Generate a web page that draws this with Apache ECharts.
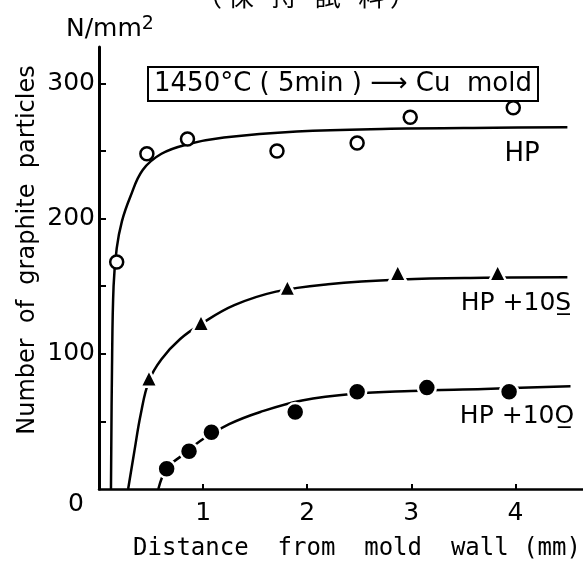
<!DOCTYPE html>
<html>
<head>
<meta charset="utf-8">
<script src="https://cdn.jsdelivr.net/npm/echarts@6/dist/echarts.min.js"></script>
<style>
  html, body { margin: 0; padding: 0; background: #fff; }
  #chart { width: 583px; height: 567px; }
</style>
</head>
<body>
<div id="chart"></div>
<script>
// measured points (distance mm, count N/mm2)
var hpX = [0.17, 0.46, 0.85, 1.71, 2.48, 2.99, 3.98];
var hpY = [168, 248, 259, 250, 256, 275, 282];
var hp10sX = [0.48, 0.98, 1.81, 2.87, 3.83];
var hp10sY = [82, 123, 149, 160, 160];
var hp10oX = [0.65, 0.865, 1.08, 1.885, 2.48, 3.15, 3.94];
var hp10oY = [15, 28, 42, 57, 72, 75, 72];

// hand drawn fitted curves
var hpCurveX = [0.115, 0.125, 0.14, 0.17, 0.22, 0.3, 0.42, 0.6, 0.85, 1.2, 1.9, 2.8, 3.8, 4.5];
var hpCurveY = [0, 90, 150, 178, 198, 216, 236, 248, 255, 260, 264.5, 266.5, 267.3, 267.6];
var hp10sCurveX = [0.28, 0.34, 0.4, 0.48, 0.6, 0.78, 1.0, 1.3, 1.7, 2.2, 2.9, 3.7, 4.5];
var hp10sCurveY = [0, 28, 55, 80, 96, 111, 123, 136, 146, 151.5, 155, 156.3, 156.7];
var hp10oCurveX = [0.57, 0.65, 0.8, 1.0, 1.25, 1.55, 1.95, 2.45, 3.0, 3.7, 4.53];
var hp10oCurveY = [0, 15, 25, 37, 48, 57, 65.5, 70.5, 72.5, 74, 76];

var xTicks = [1, 2, 3, 4];
var yTicks = [100, 200, 300];
var yMinorTicks = [50, 100, 150, 200, 250, 300];

function zip(xs, ys) {
  var out = [];
  for (var i = 0; i < xs.length; i++) {
    out.push([xs[i], ys[i]]);
  }
  return out;
}

var font = 'DejaVu Sans';

function curve(name, xs, ys) {
  return {
    name: name,
    type: 'line',
    data: zip(xs, ys),
    smooth: 0.4,
    symbol: 'none',
    lineStyle: { color: '#000', width: 2.5 },
    silent: true
  };
}

var chart = echarts.init(document.getElementById('chart'));
var option = {
  backgroundColor: '#fff',
  animation: false,
  title: {
    text: '1450°C ( 5min ) ⟶ Cu  mold',
    left: 148,
    top: 67,
    padding: [4, 6, 4, 6],
    borderColor: '#000',
    borderWidth: 2,
    textStyle: { fontFamily: font, fontSize: 26, fontWeight: 'normal', color: '#000' }
  },
  grid: { left: 99, right: 0, top: 47, bottom: 78 },
  xAxis: {
    type: 'value',
    min: 0,
    max: 4.65,
    interval: 1,
    splitLine: { show: false },
    axisLine: { lineStyle: { color: '#000', width: 2.5 } },
    axisTick: { inside: true, length: 5, customValues: xTicks, lineStyle: { color: '#000', width: 2 } },
    axisLabel: { customValues: xTicks, color: '#000', fontFamily: font, fontSize: 25, margin: 12 }
  },
  yAxis: {
    type: 'value',
    min: 0,
    max: 327,
    interval: 100,
    splitLine: { show: false },
    axisLine: { lineStyle: { color: '#000', width: 3 } },
    axisTick: { inside: true, length: 7, customValues: yMinorTicks, lineStyle: { color: '#000', width: 2 } },
    axisLabel: { customValues: yTicks, color: '#000', fontFamily: font, fontSize: 25, margin: 4 }
  },
  series: [
    curve('HP curve', hpCurveX, hpCurveY),
    curve('HP+10S curve', hp10sCurveX, hp10sCurveY),
    curve('HP+10O curve', hp10oCurveX, hp10oCurveY),
    {
      name: 'HP',
      type: 'scatter',
      data: zip(hpX, hpY),
      symbol: 'circle',
      symbolSize: 13,
      itemStyle: { color: '#fff', borderColor: '#000', borderWidth: 2.5, opacity: 1 },
      z: 5
    },
    {
      name: 'HP+10S',
      type: 'scatter',
      data: zip(hp10sX, hp10sY),
      symbol: 'triangle',
      symbolSize: 17,
      itemStyle: { color: '#000', borderColor: '#fff', borderWidth: 2.5, opacity: 1 },
      z: 5
    },
    {
      name: 'HP+10O',
      type: 'scatter',
      data: zip(hp10oX, hp10oY),
      symbol: 'circle',
      symbolSize: 18,
      itemStyle: { color: '#000', borderColor: '#fff', borderWidth: 2.5, opacity: 1 },
      z: 5
    }
  ],
  graphic: [
    {
      type: 'text', left: 66, top: 15,
      style: {
        text: 'N/mm{sup|2}',
        font: '25px ' + font,
        fill: '#000',
        rich: { sup: { fontSize: 19, fontFamily: font, verticalAlign: 'top', padding: [0, 0, 10, 0] } }
      }
    },
    {
      type: 'text', left: 196, top: -17,
      style: { text: '（ 保   持   試   料 ）', font: '26px "Noto Sans CJK JP"', fill: '#000' }
    },
    {
      type: 'text', left: 68, top: 492,
      style: { text: '0', font: '25px ' + font, fill: '#000' }
    },
    {
      type: 'text', x: 28, y: 250, rotation: Math.PI / 2,
      style: { text: 'Number  of  graphite  particles', font: '24px ' + font, fill: '#000', align: 'center', verticalAlign: 'middle' }
    },
    {
      type: 'text', x: 357, y: 549,
      style: { text: 'Distance  from  mold  wall (mm)', font: '24px "DejaVu Sans Mono"', fill: '#000', align: 'center', verticalAlign: 'middle' }
    },
    {
      type: 'text', x: 522, y: 154,
      style: { text: 'HP', font: '26px ' + font, fill: '#000', align: 'center', verticalAlign: 'middle' }
    },
    {
      type: 'text', x: 516, y: 303,
      style: { text: 'HP +10S\u0332', font: '25px ' + font, fill: '#000', align: 'center', verticalAlign: 'middle' }
    },
    {
      type: 'text', x: 517, y: 416,
      style: { text: 'HP +10O\u0332', font: '25px ' + font, fill: '#000', align: 'center', verticalAlign: 'middle' }
    }
  ]
};
chart.setOption(option);
</script>
</body>
</html>
